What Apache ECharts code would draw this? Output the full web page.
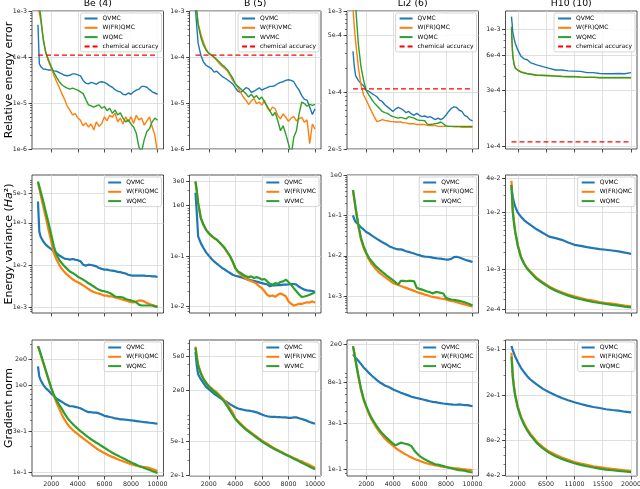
<!DOCTYPE html>
<html>
<head>
<meta charset="utf-8">
<script src="https://cdn.jsdelivr.net/npm/echarts@6/dist/echarts.min.js"></script>
<style>
  html, body { margin: 0; padding: 0; background: #fff; }
  #chart { width: 640px; height: 489px; }
</style>
</head>
<body>
<div id="chart"></div>
<script>
// ---- iteration steps ----
const stepsShort = [1000, 1100, 1200, 1400, 1600, 1800, 2000, 2200, 2400, 2600, 2800, 3000, 3200, 3400, 3600, 3800,
  4000, 4200, 4400, 4600, 4800, 5000, 5200, 5400, 5600, 5800, 6000, 6200, 6400, 6600, 6800, 7000, 7200, 7400, 7600,
  7800, 8000, 8200, 8400, 8600, 8800, 9000, 9200, 9400, 9600, 9800, 10000];
const stepsLong = [1000, 1100, 1200, 1400, 1600, 2000, 2500, 3000, 3500, 4000, 5000, 6000, 7000, 8000, 9000, 10000,
  11000, 12000, 13000, 14000, 15000, 16000, 17000, 18000, 19000, 20000];
const chemStepsShort = [1000, 10000];
const chemStepsLong = [1000, 20000];
const chemAcc = [1.1e-4, 1.1e-4, 1.1e-4, 1.1e-4];

// ---- relative energy error ----
const errBeQ = [5.0e-4, 7.2e-5, 6.2e-5, 5.5e-5, 5.4e-5, 5.2e-5, 5.2e-5, 5.0e-5, 4.9e-5, 4.6e-5, 4.3e-5, 4.0e-5, 3.9e-5, 4.0e-5,
  4.3e-5, 4.3e-5, 4.1e-5, 3.9e-5, 3.1e-5, 2.7e-5, 2.6e-5, 2.8e-5, 2.7e-5, 2.55e-5, 2.8e-5, 2.9e-5, 2.8e-5, 2.6e-5, 2.35e-5,
  2.2e-5, 1.95e-5, 1.8e-5, 1.75e-5, 1.55e-5, 1.5e-5, 1.65e-5, 1.55e-5, 1.75e-5, 1.9e-5, 2.0e-5, 2.3e-5, 2.3e-5, 2.2e-5,
  1.95e-5, 1.75e-5, 1.65e-5, 1.55e-5];
const errBeF = [1.5e-3, 9e-4, 6.4e-4, 2.5e-4, 1.2e-4, 7.9e-5, 5.7e-5, 4.0e-5, 2.9e-5, 2.2e-5, 1.6e-5, 1.2e-5, 8.6e-6, 7.0e-6,
  5.5e-6, 5.9e-6, 4.7e-6, 4.2e-6, 3.2e-6, 3.7e-6, 3.0e-6, 3.5e-6, 2.6e-6, 3.9e-6, 3.1e-6, 3.6e-6, 5.0e-6, 4.1e-6, 5.4e-6,
  4.9e-6, 6.0e-6, 3.9e-6, 4.7e-6, 3.5e-6, 5.0e-6, 3.9e-6, 5.0e-6, 3.6e-6, 5.4e-6, 4.3e-6, 4.7e-6, 3.3e-6, 4.1e-6, 5.0e-6,
  3.0e-6, 2.0e-6, 8e-7];
const errBeW = [2.0e-3, 1.2e-3, 8e-4, 2.3e-4, 1.2e-4, 8.6e-5, 6.2e-5, 4.6e-5, 3.6e-5, 2.9e-5, 2.5e-5, 2.26e-5, 2.1e-5, 2.0e-5,
  2.1e-5, 2.0e-5, 1.9e-5, 1.75e-5, 1.6e-5, 1.2e-5, 9.1e-6, 8.7e-6, 8.1e-6, 8.7e-6, 9.1e-6, 7.7e-6, 8.4e-6, 6.8e-6, 7.7e-6,
  6.0e-6, 7.0e-6, 5.5e-6, 6.1e-6, 4.7e-6, 3.9e-6, 4.3e-6, 3.5e-6, 3.0e-6, 2.2e-6, 1.1e-6, 8.7e-7, 1.6e-6, 2.4e-6, 2.8e-6,
  3.9e-6, 4.7e-6, 4.2e-6];
const errBQ = [1.1e-3, 4.5e-4, 2.0e-4, 1.1e-4, 7.8e-5, 6.6e-5, 6.1e-5, 5.6e-5, 4.7e-5, 4.9e-5, 4.3e-5, 3.8e-5, 3.5e-5, 3.2e-5,
  2.9e-5, 2.6e-5, 2.15e-5, 1.8e-5, 1.7e-5, 1.9e-5, 2.15e-5, 2.05e-5, 1.7e-5, 1.8e-5, 1.95e-5, 2.15e-5, 1.9e-5, 2.05e-5,
  2.15e-5, 2.3e-5, 2.3e-5, 2.4e-5, 2.65e-5, 2.8e-5, 2.9e-5, 3.1e-5, 3.2e-5, 3.1e-5, 2.9e-5, 2.3e-5, 1.9e-5, 1.45e-5, 1.2e-5,
  1.15e-5, 8.2e-6, 5.6e-6, 7.5e-6];
const errBF = [1.5e-3, 1.0e-3, 5.4e-4, 3.2e-4, 2.1e-4, 1.5e-4, 1.2e-4, 1.1e-4, 9.8e-5, 8.5e-5, 7.2e-5, 6.3e-5, 5.6e-5, 5.0e-5,
  4.0e-5, 3.1e-5, 2.6e-5, 2.15e-5, 1.7e-5, 1.35e-5, 1.15e-5, 9.3e-6, 1.1e-5, 1.25e-5, 9.7e-6, 1.05e-5, 9.0e-6, 1.15e-5,
  7.9e-6, 6.6e-6, 8.2e-6, 7.5e-6, 5.3e-6, 4.5e-6, 5.8e-6, 4.9e-6, 4.0e-6, 4.7e-6, 5.1e-6, 4.1e-6, 4.5e-6, 4.9e-6, 3.8e-6,
  4.3e-6, 1.3e-6, 3.5e-6, 2.7e-6];
const errBW = [1.5e-3, 1.0e-3, 5e-4, 2.7e-4, 1.8e-4, 1.4e-4, 1.2e-4, 1.1e-4, 1.0e-4, 8.8e-5, 7.8e-5, 6.8e-5, 6.1e-5, 5.3e-5,
  4.3e-5, 3.5e-5, 2.6e-5, 2.3e-5, 2.05e-5, 1.8e-5, 1.6e-5, 1.35e-5, 1.55e-5, 1.3e-5, 1.45e-5, 1.2e-5, 1.35e-5, 1.05e-5,
  8.5e-6, 6.8e-6, 5.3e-6, 6.2e-6, 4.1e-6, 2.5e-6, 3.2e-6, 2.1e-6, 1.3e-6, 7e-7, 1.8e-6, 2.5e-6, 5.8e-6, 1.05e-5, 9.7e-6,
  8.5e-6, 9.3e-6, 8.9e-6, 9.3e-6];
const errLiQ = [3.2e-4, 2.07e-4, 1.6e-4, 1.4e-4, 1.28e-4, 1.2e-4, 1.05e-4, 1.03e-4, 9.7e-5, 9.25e-5, 8.8e-5, 8.0e-5, 7.7e-5,
  7.0e-5, 6.6e-5, 6.2e-5, 5.8e-5, 6.2e-5, 6.5e-5, 6.3e-5, 6.0e-5, 5.6e-5, 5.8e-5, 5.4e-5, 5.2e-5, 5.5e-5, 5.2e-5, 5.0e-5,
  5.1e-5, 4.9e-5, 5.0e-5, 4.8e-5, 4.6e-5, 4.8e-5, 4.6e-5, 4.8e-5, 5.2e-5, 5.8e-5, 6.3e-5, 6.6e-5, 6.5e-5, 6.0e-5, 5.8e-5,
  5.2e-5, 5.0e-5, 4.6e-5, 4.45e-5];
const errLiF = [1.1e-3, 6.4e-4, 4.2e-4, 2.07e-4, 1.23e-4, 9.25e-5, 8.0e-5, 6.8e-5, 5.8e-5, 5.0e-5, 4.35e-5, 4.45e-5, 4.6e-5,
  4.5e-5, 4.45e-5, 4.35e-5, 4.35e-5, 4.3e-5, 4.3e-5, 4.3e-5, 4.2e-5, 4.2e-5, 4.1e-5, 4.1e-5, 4.1e-5, 4.0e-5, 4.0e-5, 4.0e-5,
  4.0e-5, 3.9e-5, 3.9e-5, 3.9e-5, 3.9e-5, 3.8e-5, 3.8e-5, 3.8e-5, 3.8e-5, 3.8e-5, 3.8e-5, 3.75e-5, 3.75e-5, 3.75e-5, 3.7e-5,
  3.7e-5, 3.7e-5, 3.7e-5, 3.7e-5];
const errLiW = [2.0e-3, 1.5e-3, 1.15e-3, 4.0e-4, 2.07e-4, 1.4e-4, 1.05e-4, 9.2e-5, 8.2e-5, 7.4e-5, 6.8e-5, 6.3e-5, 5.8e-5,
  5.6e-5, 5.5e-5, 5.2e-5, 5.0e-5, 4.9e-5, 4.8e-5, 4.9e-5, 4.8e-5, 4.7e-5, 5.0e-5, 4.9e-5, 4.8e-5, 4.6e-5, 4.5e-5, 4.5e-5,
  4.45e-5, 4.05e-5, 4.0e-5, 4.05e-5, 4.1e-5, 4.15e-5, 4.3e-5, 4.1e-5, 3.85e-5, 3.8e-5, 3.8e-5, 3.8e-5, 3.8e-5, 3.8e-5,
  3.8e-5, 3.8e-5, 3.8e-5, 3.8e-5, 3.8e-5];
const errHQ = [1.28e-3, 1.12e-3, 9.5e-4, 8.4e-4, 7.6e-4, 6.67e-4, 5.9e-4, 5.6e-4, 5.5e-4, 5.2e-4, 4.97e-4, 4.8e-4, 4.65e-4,
  4.5e-4, 4.5e-4, 4.42e-4, 4.4e-4, 4.38e-4, 4.27e-4, 4.27e-4, 4.2e-4, 4.18e-4, 4.18e-4, 4.2e-4, 4.18e-4, 4.27e-4];
const errHF = [9.2e-4, 7.35e-4, 6.0e-4, 5.1e-4, 4.7e-4, 4.5e-4, 4.35e-4, 4.27e-4, 4.2e-4, 4.16e-4, 4.08e-4, 4.06e-4, 4.04e-4,
  4.01e-4, 3.98e-4, 3.96e-4, 3.96e-4, 3.93e-4, 3.91e-4, 3.91e-4, 3.88e-4, 3.88e-4, 3.88e-4, 3.88e-4, 3.88e-4, 3.88e-4];
const errHW = [1.05e-3, 7.6e-4, 6.0e-4, 5.05e-4, 4.65e-4, 4.47e-4, 4.32e-4, 4.24e-4, 4.18e-4, 4.14e-4, 4.06e-4, 4.04e-4,
  4.02e-4, 3.99e-4, 3.96e-4, 3.94e-4, 3.94e-4, 3.91e-4, 3.89e-4, 3.89e-4, 3.86e-4, 3.86e-4, 3.86e-4, 3.86e-4, 3.86e-4, 3.86e-4];

// ---- energy variance ----
const varBeQ = [0.32, 0.062, 0.047, 0.036, 0.030, 0.0265, 0.0238, 0.021, 0.0191, 0.017, 0.0155, 0.0142, 0.0139, 0.0134,
  0.0139, 0.0134, 0.013, 0.0123, 0.0102, 0.0097, 0.0102, 0.01, 0.0097, 0.0093, 0.0085, 0.0081, 0.0078, 0.0078, 0.0075,
  0.0074, 0.0072, 0.0069, 0.0068, 0.0065, 0.0063, 0.0059, 0.0057, 0.0056, 0.0056, 0.0056, 0.0056, 0.0056, 0.0055, 0.0055,
  0.0054, 0.0054, 0.0052];
const varBeF = [0.89, 0.66, 0.46, 0.24, 0.13, 0.068, 0.036, 0.019, 0.0133, 0.0101, 0.0081, 0.0068, 0.0059, 0.0052, 0.0046,
  0.0042, 0.0039, 0.0036, 0.0033, 0.0030, 0.0027, 0.00245, 0.0023, 0.00217, 0.0021, 0.002, 0.00188, 0.00188, 0.0018, 0.0018,
  0.0017, 0.00165, 0.00157, 0.0015, 0.00145, 0.00138, 0.00132, 0.0013, 0.00138, 0.00145, 0.00143, 0.00138, 0.00125, 0.0012,
  0.00112, 0.00108, 0.00105];
const varBeW = [0.95, 0.72, 0.55, 0.32, 0.175, 0.098, 0.052, 0.0275, 0.0175, 0.0133, 0.011, 0.0093, 0.0081, 0.007, 0.0065,
  0.0059, 0.0053, 0.0049, 0.0045, 0.0041, 0.0037, 0.0034, 0.0031, 0.0028, 0.0026, 0.00245, 0.0024, 0.0023, 0.00217, 0.002,
  0.0018, 0.00175, 0.00175, 0.0017, 0.00157, 0.0015, 0.00145, 0.00138, 0.0013, 0.00115, 0.0011, 0.0011, 0.0011, 0.0011,
  0.0011, 0.00105, 0.00101];
const varBQ = [1.8, 0.71, 0.246, 0.18, 0.144, 0.118, 0.1016, 0.0885, 0.078, 0.0705, 0.064, 0.058, 0.054, 0.0495, 0.046,
  0.0425, 0.0405, 0.0394, 0.038, 0.0366, 0.035, 0.0339, 0.0328, 0.032, 0.031, 0.030, 0.029, 0.028, 0.0275, 0.0251, 0.026,
  0.026, 0.0265, 0.0265, 0.027, 0.027, 0.0272, 0.0278, 0.0278, 0.027, 0.0245, 0.0228, 0.0215, 0.0208, 0.0205, 0.0202, 0.0195];
const varBF = [3.0, 1.9, 1.1, 0.56, 0.41, 0.33, 0.28, 0.25, 0.225, 0.21, 0.185, 0.163, 0.142, 0.118, 0.098, 0.076, 0.056,
  0.048, 0.0425, 0.039, 0.035, 0.033, 0.032, 0.03, 0.028, 0.025, 0.023, 0.02, 0.017, 0.0159, 0.0165, 0.0155, 0.017, 0.018,
  0.017, 0.0159, 0.0126, 0.0113, 0.0104, 0.0108, 0.0113, 0.0112, 0.0117, 0.0121, 0.0119, 0.0126, 0.0118];
const varBW = [3.0, 1.93, 1.13, 0.57, 0.42, 0.33, 0.286, 0.253, 0.228, 0.211, 0.187, 0.165, 0.144, 0.12, 0.1, 0.078, 0.058,
  0.0496, 0.046, 0.0425, 0.0394, 0.038, 0.0394, 0.0366, 0.038, 0.0366, 0.0339, 0.035, 0.0314, 0.0282, 0.027, 0.029, 0.028,
  0.0305, 0.0314, 0.0339, 0.0305, 0.027, 0.023, 0.02, 0.0172, 0.0154, 0.0157, 0.0163, 0.017, 0.018, 0.019];
const varLiQ = [0.1, 0.08, 0.069, 0.06, 0.051, 0.045, 0.039, 0.0358, 0.032, 0.029, 0.0263, 0.024, 0.0218, 0.0202, 0.0184,
  0.0167, 0.0158, 0.015, 0.0144, 0.0144, 0.0138, 0.013, 0.0125, 0.0119, 0.0114, 0.0108, 0.0104, 0.0098, 0.0096, 0.0095,
  0.0093, 0.009, 0.0088, 0.0086, 0.0085, 0.0083, 0.0081, 0.0081, 0.0084, 0.0093, 0.0095, 0.0091, 0.0086, 0.0081, 0.0077,
  0.0074, 0.007];
const varLiF = [0.425, 0.249, 0.141, 0.0544, 0.0254, 0.0158, 0.0112, 0.0081, 0.00634, 0.00524, 0.00441, 0.00379, 0.00338,
  0.00301, 0.00269, 0.0024, 0.00214, 0.00202, 0.00191, 0.0018, 0.0017, 0.00161, 0.00152, 0.00144, 0.00136, 0.00128, 0.00121,
  0.00116, 0.0011, 0.00106, 0.001, 0.00096, 0.00094, 0.00091, 0.00088, 0.00086, 0.00083, 0.00079, 0.00077, 0.00074, 0.00071,
  0.00068, 0.00065, 0.00063, 0.0006, 0.00058, 0.00056];
const varLiW = [0.425, 0.259, 0.155, 0.06, 0.028, 0.0174, 0.0119, 0.0089, 0.00738, 0.0061, 0.00524, 0.00458, 0.00401,
  0.00358, 0.00313, 0.00279, 0.00249, 0.00222, 0.00195, 0.0024, 0.0024, 0.00235, 0.0024, 0.0024, 0.00235, 0.00161, 0.00152,
  0.00146, 0.00138, 0.00131, 0.00126, 0.00117, 0.00126, 0.00126, 0.00121, 0.00117, 0.00091, 0.00086, 0.00083, 0.00081,
  0.00079, 0.00077, 0.00074, 0.00071, 0.00067, 0.00063, 0.00059];
const varHQ = [0.0304, 0.0232, 0.019, 0.0149, 0.0127, 0.01, 0.0085, 0.0074, 0.0067, 0.0061, 0.0051, 0.0044, 0.0038, 0.00357,
  0.00334, 0.003, 0.00273, 0.00262, 0.00249, 0.00239, 0.0023, 0.00224, 0.00217, 0.00209, 0.002, 0.0019];
const varHF = [0.0361, 0.019, 0.0111, 0.007, 0.00467, 0.00273, 0.00171, 0.0013, 0.00107, 0.00093, 0.00072, 0.0006, 0.00051,
  0.000448, 0.000402, 0.000367, 0.000343, 0.000321, 0.0003, 0.000288, 0.000273, 0.000262, 0.000255, 0.000245, 0.000236,
  0.000229];
const varHW = [0.0304, 0.0178, 0.0104, 0.0065, 0.0045, 0.00262, 0.00166, 0.00127, 0.00104, 0.0009, 0.00069, 0.00058,
  0.00049, 0.00043, 0.000387, 0.000352, 0.000325, 0.000304, 0.000288, 0.000273, 0.000262, 0.000252, 0.000242, 0.000236,
  0.000226, 0.00022];

// ---- gradient norm ----
const gradBeQ = [1.66, 1.27, 1.16, 1.02, 0.93, 0.875, 0.81, 0.76, 0.71, 0.68, 0.65, 0.62, 0.6, 0.58, 0.58, 0.57, 0.56, 0.55,
  0.53, 0.51, 0.495, 0.495, 0.49, 0.49, 0.48, 0.465, 0.45, 0.444, 0.436, 0.43, 0.42, 0.417, 0.41, 0.41, 0.406, 0.403, 0.4,
  0.396, 0.392, 0.388, 0.385, 0.38, 0.378, 0.375, 0.372, 0.368, 0.365];
const gradBeF = [2.84, 2.55, 2.27, 1.82, 1.455, 1.164, 0.931, 0.758, 0.634, 0.545, 0.464, 0.406, 0.365, 0.334, 0.311, 0.292,
  0.277, 0.262, 0.248, 0.235, 0.223, 0.2117, 0.2006, 0.19, 0.182, 0.174, 0.168, 0.162, 0.156, 0.152, 0.148, 0.143, 0.139,
  0.1355, 0.132, 0.1284, 0.125, 0.1228, 0.1206, 0.1185, 0.1174, 0.1164, 0.1153, 0.1133, 0.1104, 0.1074, 0.1045];
const gradBeW = [2.84, 2.6, 2.33, 1.85, 1.47, 1.17, 0.94, 0.78, 0.68, 0.6, 0.54, 0.477, 0.428, 0.392, 0.365, 0.34, 0.319,
  0.3, 0.284, 0.269, 0.255, 0.242, 0.231, 0.221, 0.212, 0.2024, 0.1936, 0.185, 0.177, 0.1694, 0.1634, 0.1577, 0.152, 0.1468,
  0.1416, 0.1367, 0.1318, 0.1272, 0.1239, 0.1196, 0.1164, 0.1133, 0.1103, 0.1074, 0.1045, 0.1018, 0.0991];
const gradBQ = [5.57, 3.82, 3.05, 2.67, 2.4, 2.17, 2.04, 1.92, 1.8, 1.71, 1.63, 1.56, 1.49, 1.43, 1.36, 1.3, 1.25, 1.21,
  1.19, 1.17, 1.15, 1.14, 1.13, 1.11, 1.09, 1.06, 1.03, 1.0, 0.98, 0.97, 0.965, 0.963, 0.955, 0.955, 0.95, 0.95, 0.94, 0.94,
  0.95, 0.95, 0.93, 0.91, 0.89, 0.865, 0.84, 0.82, 0.8];
const gradBF = [6.43, 5.0, 4.0, 3.19, 2.72, 2.44, 2.23, 2.1, 1.97, 1.87, 1.74, 1.62, 1.49, 1.35, 1.21, 1.09, 0.928, 0.863,
  0.803, 0.747, 0.703, 0.666, 0.631, 0.598, 0.567, 0.537, 0.509, 0.487, 0.466, 0.445, 0.426, 0.407, 0.393, 0.379, 0.365,
  0.352, 0.34, 0.328, 0.317, 0.308, 0.297, 0.29, 0.279, 0.272, 0.262, 0.253, 0.244];
const gradBW = [6.25, 4.66, 3.82, 3.11, 2.67, 2.4, 2.19, 2.04, 1.92, 1.8, 1.68, 1.56, 1.43, 1.28, 1.14, 1.015, 0.91, 0.84,
  0.78, 0.73, 0.684, 0.648, 0.614, 0.582, 0.552, 0.523, 0.495, 0.473, 0.453, 0.433, 0.415, 0.4, 0.386, 0.372, 0.359, 0.346,
  0.334, 0.323, 0.311, 0.3, 0.29, 0.279, 0.27, 0.26, 0.251, 0.242, 0.234];
const gradLiQ = [1.56, 1.5, 1.44, 1.34, 1.24, 1.14, 1.07, 1.0, 0.94, 0.89, 0.84, 0.8, 0.77, 0.74, 0.72, 0.7, 0.675, 0.655,
  0.64, 0.622, 0.608, 0.594, 0.58, 0.565, 0.556, 0.548, 0.54, 0.532, 0.523, 0.515, 0.507, 0.5, 0.496, 0.49, 0.485, 0.48,
  0.477, 0.473, 0.47, 0.466, 0.466, 0.47, 0.466, 0.462, 0.462, 0.456, 0.45];
const gradLiF = [1.88, 1.6, 1.31, 0.914, 0.664, 0.522, 0.438, 0.373, 0.328, 0.294, 0.265, 0.242, 0.224, 0.208, 0.195, 0.185,
  0.175, 0.166, 0.158, 0.152, 0.146, 0.141, 0.136, 0.132, 0.128, 0.125, 0.122, 0.119, 0.116, 0.114, 0.1124, 0.1107, 0.109,
  0.108, 0.1064, 0.1056, 0.1047, 0.104, 0.103, 0.102, 0.1014, 0.1007, 0.1, 0.0993, 0.0985, 0.0978, 0.097];
const gradLiW = [1.9, 1.62, 1.34, 0.95, 0.69, 0.54, 0.45, 0.388, 0.34, 0.305, 0.278, 0.254, 0.235, 0.22, 0.207, 0.195, 0.185,
  0.176, 0.182, 0.188, 0.185, 0.182, 0.179, 0.173, 0.157, 0.146, 0.137, 0.131, 0.126, 0.122, 0.118, 0.115, 0.112, 0.111,
  0.109, 0.107, 0.105, 0.103, 0.102, 0.1, 0.0985, 0.097, 0.0965, 0.096, 0.0945, 0.093, 0.092];
const gradHQ = [0.535, 0.517, 0.493, 0.461, 0.431, 0.388, 0.345, 0.316, 0.292, 0.273, 0.247, 0.226, 0.211, 0.199, 0.188,
  0.18, 0.1726, 0.1667, 0.1614, 0.157, 0.1538, 0.15, 0.1478, 0.1458, 0.1428, 0.141];
const gradHF = [0.467, 0.382, 0.302, 0.238, 0.201, 0.159, 0.13, 0.1137, 0.1007, 0.0917, 0.0785, 0.07, 0.0641, 0.06, 0.0568,
  0.0542, 0.052, 0.0504, 0.049, 0.0477, 0.0468, 0.0459, 0.0452, 0.0446, 0.044, 0.0434];
const gradHW = [0.431, 0.357, 0.288, 0.23, 0.195, 0.154, 0.1267, 0.11, 0.098, 0.0892, 0.0764, 0.0682, 0.0624, 0.0584,
  0.0553, 0.0527, 0.0507, 0.049, 0.0477, 0.0465, 0.0455, 0.0446, 0.044, 0.0434, 0.0429, 0.0423];

// ---- labels and ticks ----
const molecules = ['Be (4)', 'B (5)', 'Li2 (6)', 'H10 (10)'];
const namesQMC = ['QVMC', 'W(FR)QMC', 'WQMC'];
const namesVMC = ['QVMC', 'W(FR)VMC', 'WVMC'];
const chemName = 'chemical accuracy';
const xTicksShort = [2000, 4000, 6000, 8000, 10000];
const xTicksLong = [2000, 6500, 11000, 15500, 20000];
const yLabErr = [['1e-3', '1e-4', '1e-5', '1e-6'], ['1e-3', '1e-4', '1e-5', '1e-6'],
  ['1e-3', '5e-4', '1e-4', '2e-5'], ['1e-3', '6e-4', '3e-4', '1e-4']];
const yLabVar = [['5e-1', '1e-1', '1e-2', '1e-3'], ['3e0', '1e0', '1e-1', '1e-2'],
  ['1e0', '1e-1', '1e-2', '1e-3'], ['4e-2', '1e-2', '1e-3', '2e-4']];
const yLabGrad = [['2e0', '1e0', '3e-1', '1e-1'], ['5e0', '2e0', '5e-1', '2e-1'],
  ['2e0', '8e-1', '3e-1', '1e-1'], ['5e-1', '2e-1', '8e-2', '4e-2']];
const yRangeErr = [[1e-6, 1e-3], [1e-6, 1e-3], [2e-5, 1e-3], [9.56e-5, 1.43e-3]];
const yRangeVar = [[7.3e-4, 1.36], [7.4e-3, 4.04], [3.85e-4, 1.0], [1.75e-4, 4.55e-2]];
const yRangeGrad = [[0.0917, 3.34], [0.195, 7.7], [0.0845, 2.2], [0.0392, 0.604]];

// ---- layout ----
const FONT = 'DejaVu Sans';
const COLORS = ['#1f77b4', '#ff7f0e', '#2ca02c'];
const RED = '#ff0000';
const INK = '#262626';
const colLeft = [32, 189.5, 347, 505.5];
const colWidth = 131.5;
const rowTop = [11, 175, 340];
const rowHeight = [138, 138, 136];
const lineWidth = [1.4, 2.2, 2.2];
const lg = Math.log10;

const rows = [
  { label: 'Relative energy error', data: [[errBeQ, errBeF, errBeW], [errBQ, errBF, errBW], [errLiQ, errLiF, errLiW], [errHQ, errHF, errHW]], ticks: yLabErr, range: yRangeErr },
  { label: 'Energy variance ({i|Ha}²)', data: [[varBeQ, varBeF, varBeW], [varBQ, varBF, varBW], [varLiQ, varLiF, varLiW], [varHQ, varHF, varHW]], ticks: yLabVar, range: yRangeVar },
  { label: 'Gradient norm', data: [[gradBeQ, gradBeF, gradBeW], [gradBQ, gradBF, gradBW], [gradLiQ, gradLiF, gradLiW], [gradHQ, gradHF, gradHW]], ticks: yLabGrad, range: yRangeGrad }
];

function minorTicks(lo, hi) {
  const out = [];
  for (let k = Math.floor(lg(lo)) - 1; k <= Math.ceil(lg(hi)); k++) {
    for (let m = 1; m < 10; m++) {
      const v = m * Math.pow(10, k);
      if (v >= lo * 0.999 && v <= hi * 1.001) out.push(lg(v));
    }
  }
  return out;
}

const grids = [], xAxes = [], yAxes = [], minorAxes = [], series = [], legends = [], titles = [];

rows.forEach((row, r) => {
  for (let c = 0; c < 4; c++) {
    const g = r * 4 + c;
    const steps = c === 3 ? stepsLong : stepsShort;
    const xTicks = c === 3 ? xTicksLong : xTicksShort;
    const names = c === 1 ? namesVMC : namesQMC;
    const [lo, hi] = row.range[c];
    const labels = row.ticks[c];
    const labelPos = labels.map(s => lg(Number(s)));

    grids.push({
      left: colLeft[c], top: rowTop[r], width: colWidth, height: rowHeight[r],
      show: true, borderColor: INK, borderWidth: 0.8, backgroundColor: '#fff',
      outerBoundsMode: 'none'
    });
    xAxes.push({
      gridIndex: g, type: 'value',
      min: c === 3 ? 50 : 550, max: c === 3 ? 20950 : 10450,
      axisLine: { show: false, onZero: false },
      axisTick: { customValues: xTicks, length: 3.5, lineStyle: { color: INK, width: 0.8 } },
      axisLabel: {
        show: r === 2, customValues: xTicks, fontSize: 6.3, color: INK, fontFamily: FONT, margin: 5,
        formatter: v => String(Math.round(v))
      },
      splitLine: { show: true, lineStyle: { color: '#d8d8d8', width: 0.8 } }
    });
    const yAxis = {
      gridIndex: g, type: 'value', position: 'left',
      min: lg(lo) - 1e-9, max: lg(hi) + 1e-9,
      axisLine: { show: false, onZero: false },
      axisTick: { customValues: labelPos, length: 3.5, lineStyle: { color: INK, width: 0.8 } },
      axisLabel: {
        customValues: labelPos, fontSize: 6.3, color: INK, fontFamily: FONT, margin: 5,
        formatter: v => {
          const i = labelPos.findIndex(p => Math.abs(p - v) < 1e-6);
          return i >= 0 ? labels[i] : '';
        }
      },
      splitLine: { show: true, lineStyle: { color: '#d8d8d8', width: 0.8 } }
    };
    if (c === 0) {
      Object.assign(yAxis, {
        name: row.label, nameLocation: 'middle', nameRotate: 90, nameGap: 17, nameMoveOverlap: false,
        nameTextStyle: { fontSize: 11, fontFamily: FONT, color: '#000', rich: { i: { fontSize: 11, fontStyle: 'italic', fontFamily: FONT } } }
      });
    }
    yAxes.push(yAxis);
    minorAxes.push({
      gridIndex: g, type: 'value', position: 'left', offset: 0,
      min: lg(lo) - 1e-9, max: lg(hi) + 1e-9,
      axisLine: { show: false, onZero: false },
      axisTick: { customValues: minorTicks(lo, hi), length: 2, lineStyle: { color: INK, width: 0.6 } },
      axisLabel: { show: false }, splitLine: { show: false }
    });

    row.data[c].forEach((vals, k) => {
      series.push({
        type: 'line', name: names[k], xAxisIndex: g, yAxisIndex: g,
        data: steps.map((s, i) => [s, lg(vals[i])]),
        symbol: 'none', showSymbol: false, silent: true, clip: true,
        lineStyle: { color: COLORS[k], width: lineWidth[r] },
        itemStyle: { color: COLORS[k] }
      });
    });

    const legendNames = names.slice();
    if (r === 0) {
      const cs = c === 3 ? chemStepsLong : chemStepsShort;
      series.push({
        type: 'line', name: chemName, xAxisIndex: g, yAxisIndex: g,
        data: cs.map(s => [s, lg(chemAcc[c])]),
        symbol: 'none', showSymbol: false, silent: true,
        lineStyle: { color: RED, width: 1.4, type: [5, 3] },
        itemStyle: { color: RED }
      });
      legendNames.push(chemName);
    }

    legends.push({
      data: legendNames, orient: 'vertical', align: 'left',
      right: 640 - (colLeft[c] + colWidth) + 2, top: rowTop[r] + 2,
      itemWidth: 13, itemHeight: 7, itemGap: 2.3, padding: [2, 3, 2, 3],
      selectedMode: false,
      itemStyle: { opacity: 0, borderWidth: 0 },
      textStyle: { fontSize: 6, lineHeight: 7, fontFamily: FONT, color: '#000' },
      backgroundColor: 'rgba(255,255,255,0.85)', borderColor: '#cccccc', borderWidth: 0.8, borderRadius: 2
    });
  }
});

molecules.forEach((m, c) => {
  titles.push({
    text: m, left: colLeft[c] + colWidth / 2, top: -1, textAlign: 'center', padding: 0,
    textStyle: { fontSize: 9.3, fontWeight: 'normal', fontFamily: FONT, color: '#000' }
  });
});

const chart = echarts.init(document.getElementById('chart'), null, { renderer: 'canvas' });
chart.setOption({
  animation: false,
  backgroundColor: '#fff',
  title: titles,
  grid: grids,
  xAxis: xAxes,
  yAxis: yAxes.concat(minorAxes),
  legend: legends,
  series: series
});
</script>
</body>
</html>
